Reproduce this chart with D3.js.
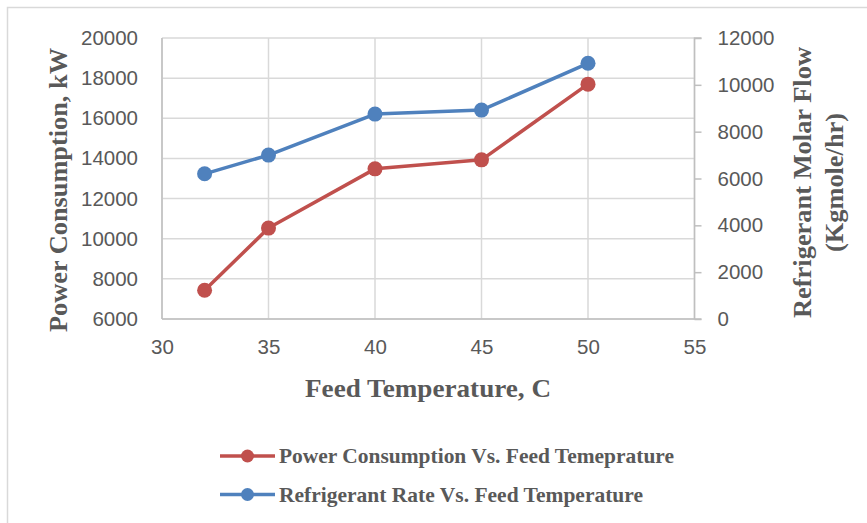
<!DOCTYPE html>
<html><head><meta charset="utf-8">
<script src="https://cdn.jsdelivr.net/npm/d3@7"></script>
<style>body{margin:0;background:#fff}svg{display:block}</style>
</head><body>
<svg id="c" width="867" height="523"></svg>
<script>
const temperatures = [32, 35, 40, 45, 50];
const powerConsumption = [7430, 10530, 13480, 13930, 17700];
const refrigerantRate = [6200, 7000, 8750, 8920, 10920];
const xTicks = [30, 35, 40, 45, 50, 55];
const leftTicks = [6000, 8000, 10000, 12000, 14000, 16000, 18000, 20000];
const rightTicks = [0, 2000, 4000, 6000, 8000, 10000, 12000];
const seriesNames = ["Power Consumption Vs. Feed Temeprature", "Refrigerant Rate Vs. Feed Temperature"];
const colors = ["#c0504d", "#4f81bd"];

const svg = d3.select("#c");
const L = 162, R = 694.5, T = 38, B = 319;
const x = d3.scaleLinear().domain([30, 55]).range([L, R]);
const yL = d3.scaleLinear().domain([6000, 20000]).range([B, T]);
const yR = d3.scaleLinear().domain([0, 12000]).range([B, T]);

// chart border (left/top visible)
svg.append("rect").attr("x", 7.5).attr("y", 7.5).attr("width", 900).attr("height", 600)
  .attr("fill", "none").attr("stroke", "#d9d9d9").attr("stroke-width", 1.5);

const tickFont = "'Liberation Sans', Arial, sans-serif";
const titleFont = "'Liberation Serif', 'Times New Roman', serif";
const grey = "#595959";

// gridlines
const g = svg.append("g");
g.selectAll(".hg").data(leftTicks).join("line")
  .attr("x1", L).attr("x2", R).attr("y1", d => yL(d)).attr("y2", d => yL(d))
  .attr("stroke", "#d9d9d9").attr("stroke-width", 1.5);
g.selectAll(".vg").data(xTicks).join("line")
  .attr("y1", T).attr("y2", B).attr("x1", d => x(d)).attr("x2", d => x(d))
  .attr("stroke", "#d9d9d9").attr("stroke-width", 1.5);

// axes
const axL = svg.append("g").attr("transform", `translate(${L},0)`)
  .call(d3.axisLeft(yL).tickValues(leftTicks).tickSize(0).tickPadding(24).tickFormat(d3.format("d")));
const axR = svg.append("g").attr("transform", `translate(${R},0)`)
  .call(d3.axisRight(yR).tickValues(rightTicks).tickSize(7).tickPadding(16).tickFormat(d3.format("d")));
const axB = svg.append("g").attr("transform", `translate(0,${B})`)
  .call(d3.axisBottom(x).tickValues(xTicks).tickSize(0).tickPadding(20).tickFormat(d3.format("d")));
[axL, axR, axB].forEach(a => {
  a.select(".domain").attr("stroke", "#bfbfbf").attr("stroke-width", 1.5);
  a.selectAll(".tick line").attr("stroke", "#bfbfbf").attr("stroke-width", 1.5);
  a.selectAll("text").attr("fill", grey).style("font-family", tickFont).style("font-size", "20.5px");
});
axL.select(".domain").remove();
svg.append("line").attr("x1", L).attr("x2", L).attr("y1", T).attr("y2", B).attr("stroke", "#bfbfbf").attr("stroke-width", 1.5);
axB.select(".domain").remove();
svg.append("line").attr("x1", L).attr("x2", R).attr("y1", B).attr("y2", B).attr("stroke", "#bfbfbf").attr("stroke-width", 1.5);
axR.select(".domain").attr("d", `M7,${T}H0V${B}H7`);

// series
const data1 = temperatures.map((t, i) => [t, powerConsumption[i]]);
const data2 = temperatures.map((t, i) => [t, refrigerantRate[i]]);
const series = [{d: data2, y: yR, c: colors[1]}, {d: data1, y: yL, c: colors[0]}];
series.forEach(s => {
  const line = d3.line().x(d => x(d[0])).y(d => s.y(d[1]));
  svg.append("path").datum(s.d).attr("d", line).attr("fill", "none")
    .attr("stroke", s.c).attr("stroke-width", 3.5).attr("stroke-linejoin", "round");
  svg.selectAll(null).data(s.d).join("circle")
    .attr("cx", d => x(d[0])).attr("cy", d => s.y(d[1])).attr("r", 7.5).attr("fill", s.c);
});

// axis titles
svg.append("text").attr("x", 428).attr("y", 397).attr("text-anchor", "middle")
  .attr("textLength", 246).attr("lengthAdjust", "spacingAndGlyphs")
  .attr("fill", grey).style("font-family", titleFont).style("font-weight", "bold").style("font-size", "26px")
  .text("Feed Temperature, C");
svg.append("text").attr("transform", "translate(67,190) rotate(-90)").attr("text-anchor", "middle")
  .attr("textLength", 284).attr("lengthAdjust", "spacingAndGlyphs")
  .attr("fill", grey).style("font-family", titleFont).style("font-weight", "bold").style("font-size", "26px")
  .text("Power Consumption, kW");
const rtStyle = t => t.attr("fill", grey).attr("text-anchor", "middle").attr("lengthAdjust", "spacingAndGlyphs")
  .style("font-family", titleFont).style("font-weight", "bold").style("font-size", "26px");
rtStyle(svg.append("text").attr("transform", "translate(811,182.5) rotate(-90)").attr("textLength", 271))
  .text("Refrigerant Molar Flow");
rtStyle(svg.append("text").attr("transform", "translate(843,182.5) rotate(-90)").attr("textLength", 139))
  .text("(Kgmole/hr)");

// legend
const legY = [456, 494.5];
const legLen = [395, 364];
seriesNames.forEach((name, i) => {
  const lg = svg.append("g").attr("transform", `translate(0,${legY[i]})`);
  lg.append("line").attr("x1", 220).attr("x2", 275).attr("y1", 0).attr("y2", 0)
    .attr("stroke", colors[i]).attr("stroke-width", 3.5);
  lg.append("circle").attr("cx", 247.5).attr("cy", 0).attr("r", 6.5).attr("fill", colors[i]);
  lg.append("text").attr("x", 279).attr("y", 7).attr("fill", grey)
    .attr("textLength", legLen[i]).attr("lengthAdjust", "spacingAndGlyphs")
    .style("font-family", titleFont).style("font-weight", "bold").style("font-size", "21px").text(name);
});
</script>
</body></html>
